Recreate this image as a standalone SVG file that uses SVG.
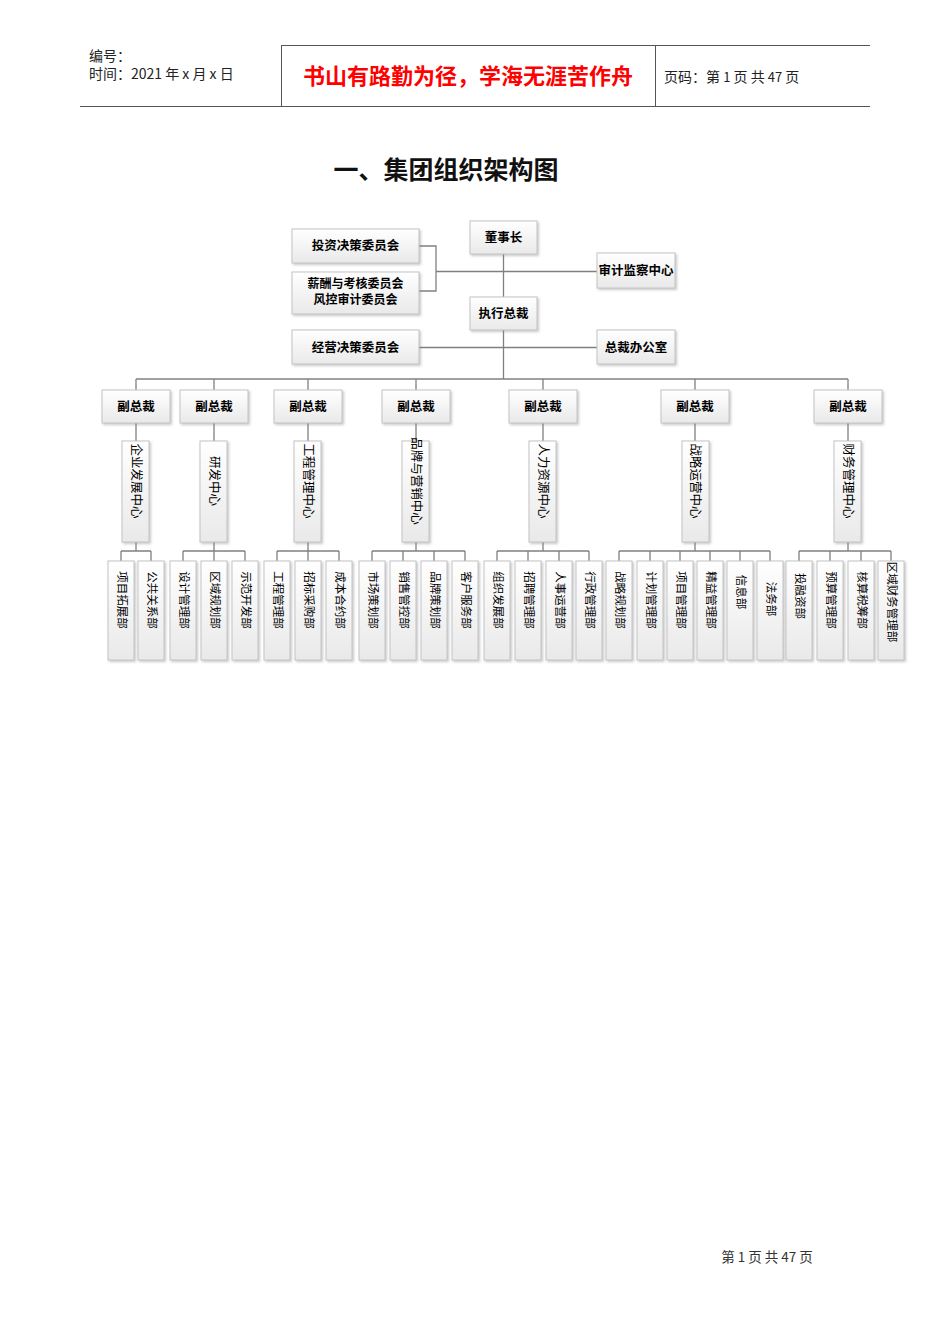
<svg xmlns="http://www.w3.org/2000/svg" width="950" height="1344" viewBox="0 0 950 1344">
<style>
.hl{stroke:#555;stroke-width:1;fill:none}
.box{fill:url(#gr);stroke:#c4c4c4;stroke-width:1;filter:url(#sh)}
.cn{stroke:#808080;stroke-width:1.3;fill:none}
.t{font-family:"Noto Sans CJK SC","Liberation Sans",sans-serif;fill:#000}
.b{font-size:12.5px;font-weight:bold;text-anchor:middle}
.b2{font-size:12px;font-weight:bold;text-anchor:middle}
.v{font-size:12.5px;text-anchor:middle;dominant-baseline:central}
.lf{font-size:11.5px;text-anchor:middle;dominant-baseline:central}
.hd{font-family:"Noto Sans CJK SC","Liberation Sans",sans-serif;font-size:14px;fill:#222}
</style>
<defs>
<linearGradient id="gr" x1="0" y1="0" x2="0" y2="1">
<stop offset="0" stop-color="#ffffff"/>
<stop offset="1" stop-color="#e9e9e9"/>
</linearGradient>
<filter id="sh" x="-20%" y="-20%" width="150%" height="150%">
<feDropShadow dx="1.5" dy="1.5" stdDeviation="0.8" flood-color="#888" flood-opacity="0.45"/>
</filter>
</defs>
<rect width="950" height="1344" fill="#fff"/>

<g id="header">
<line class="hl" x1="281" y1="45.5" x2="870" y2="45.5"/>
<line class="hl" x1="80" y1="106.5" x2="870" y2="106.5"/>
<line class="hl" x1="281.5" y1="45" x2="281.5" y2="106"/>
<line class="hl" x1="655.5" y1="45" x2="655.5" y2="106"/>
<text class="hd" x="89" y="61">编号：</text>
<text class="hd" x="89" y="79">时间：2021 年 x 月 x 日</text>
<text x="468" y="84" text-anchor="middle" font-family="Noto Sans CJK SC,sans-serif" font-size="22" font-weight="bold" fill="#ff0000">书山有路勤为径，学海无涯苦作舟</text>
<text class="hd" x="664" y="82" font-size="15">页码：第 <tspan font-size="13">1</tspan> 页 共 <tspan font-size="13">47</tspan> 页</text>
</g>

<text x="446" y="179" text-anchor="middle" font-family="Noto Sans CJK SC,sans-serif" font-size="25" font-weight="bold" fill="#111">一、集团组织架构图</text>

<g id="connectors">
<line class="cn" x1="503.5" y1="254" x2="503.5" y2="297"/>
<polyline class="cn" points="419,246 436,246 436,291 419,291"/>
<line class="cn" x1="436" y1="271.5" x2="597" y2="271.5"/>
<line class="cn" x1="419" y1="347.5" x2="597" y2="347.5"/>
<line class="cn" x1="503.5" y1="330" x2="503.5" y2="379"/>
<line class="cn" x1="136" y1="379" x2="848" y2="379"/>
<path class="cn" d="M136 379V390M214 379V390M308 379V390M416 379V390M543 379V390M695 379V390M848 379V390"/>
<path class="cn" d="M136 423V441M214 423V441M308 423V441M416 423V441M543 423V441M695 423V441M848 423V441"/>
<path class="cn" d="M136 542V551M214 542V551M308 542V551M416 542V551M543 542V551M695 542V551M848 542V551"/>
<path class="cn" d="M121 551H151M183 551H245M277 551H339M372 551H465M497 551H589M619 551H770M799 551H891"/>
<path class="cn" d="M121 551V561M151 551V561M183 551V561M214 551V561M245 551V561M277 551V561M308 551V561M339 551V561M372 551V561M403 551V561M434 551V561M465 551V561M497 551V561M528 551V561M559 551V561M589 551V561M619 551V561M650 551V561M680 551V561M710 551V561M740 551V561M770 551V561M799 551V561M830 551V561M861 551V561M891 551V561"/>
</g>

<g id="n-chairman"><rect class="box" x="470" y="221" width="67" height="33"/><text class="t b" x="503.5" y="242">董事长</text></g>
<g id="n-invest"><rect class="box" x="292" y="229" width="127" height="34"/><text class="t b" x="355.5" y="250">投资决策委员会</text></g>
<g id="n-salary"><rect class="box" x="292" y="272" width="127" height="42"/><text class="t b2" x="355.5" y="288">薪酬与考核委员会</text><text class="t b2" x="355.5" y="304">风控审计委员会</text></g>
<g id="n-audit"><rect class="box" x="597" y="253" width="78" height="35"/><text class="t b" x="636" y="275">审计监察中心</text></g>
<g id="n-ceo"><rect class="box" x="470" y="297" width="67" height="33"/><text class="t b" x="503.5" y="318">执行总裁</text></g>
<g id="n-ops"><rect class="box" x="292" y="330" width="127" height="34"/><text class="t b" x="355.5" y="352">经营决策委员会</text></g>
<g id="n-office"><rect class="box" x="597" y="330" width="78" height="34"/><text class="t b" x="636" y="352">总裁办公室</text></g>

<g id="vp1"><rect class="box" x="102" y="390" width="68" height="33"/><text class="t b" x="136" y="411">副总裁</text></g>
<g id="vp2"><rect class="box" x="180" y="390" width="68" height="33"/><text class="t b" x="214" y="411">副总裁</text></g>
<g id="vp3"><rect class="box" x="274" y="390" width="68" height="33"/><text class="t b" x="308" y="411">副总裁</text></g>
<g id="vp4"><rect class="box" x="382" y="390" width="68" height="33"/><text class="t b" x="416" y="411">副总裁</text></g>
<g id="vp5"><rect class="box" x="509" y="390" width="68" height="33"/><text class="t b" x="543" y="411">副总裁</text></g>
<g id="vp6"><rect class="box" x="661" y="390" width="68" height="33"/><text class="t b" x="695" y="411">副总裁</text></g>
<g id="vp7"><rect class="box" x="814" y="390" width="68" height="33"/><text class="t b" x="848" y="411">副总裁</text></g>

<g id="c1"><rect class="box" x="122" y="441" width="27" height="101"/><text class="t v" transform="translate(137,481) rotate(90)">企业发展中心</text></g>
<g id="c2"><rect class="box" x="200" y="441" width="27" height="101"/><text class="t v" transform="translate(215,481) rotate(90)">研发中心</text></g>
<g id="c3"><rect class="box" x="294" y="441" width="27" height="101"/><text class="t v" transform="translate(309,481) rotate(90)">工程管理中心</text></g>
<g id="c4"><rect class="box" x="402" y="441" width="27" height="101"/><text class="t v" transform="translate(417,481) rotate(90)">品牌与营销中心</text></g>
<g id="c5"><rect class="box" x="529" y="441" width="27" height="101"/><text class="t v" transform="translate(544,481) rotate(90)">人力资源中心</text></g>
<g id="c6"><rect class="box" x="682" y="441" width="27" height="101"/><text class="t v" transform="translate(696,481) rotate(90)">战略运营中心</text></g>
<g id="c7"><rect class="box" x="834" y="441" width="27" height="101"/><text class="t v" transform="translate(849,481) rotate(90)">财务管理中心</text></g>

<g id="d1"><rect class="box" x="108" y="561" width="26" height="99"/><text class="t lf" transform="translate(123,600) rotate(90)">项目拓展部</text></g>
<g id="d2"><rect class="box" x="138" y="561" width="26" height="99"/><text class="t lf" transform="translate(153,600) rotate(90)">公共关系部</text></g>
<g id="d3"><rect class="box" x="170" y="561" width="26" height="99"/><text class="t lf" transform="translate(185,600) rotate(90)">设计管理部</text></g>
<g id="d4"><rect class="box" x="201" y="561" width="26" height="99"/><text class="t lf" transform="translate(216,600) rotate(90)">区域规划部</text></g>
<g id="d5"><rect class="box" x="232" y="561" width="26" height="99"/><text class="t lf" transform="translate(247,600) rotate(90)">示范开发部</text></g>
<g id="d6"><rect class="box" x="264" y="561" width="26" height="99"/><text class="t lf" transform="translate(279,600) rotate(90)">工程管理部</text></g>
<g id="d7"><rect class="box" x="295" y="561" width="26" height="99"/><text class="t lf" transform="translate(310,600) rotate(90)">招标采购部</text></g>
<g id="d8"><rect class="box" x="326" y="561" width="26" height="99"/><text class="t lf" transform="translate(341,600) rotate(90)">成本合约部</text></g>
<g id="d9"><rect class="box" x="359" y="561" width="26" height="99"/><text class="t lf" transform="translate(374,600) rotate(90)">市场策划部</text></g>
<g id="d10"><rect class="box" x="390" y="561" width="26" height="99"/><text class="t lf" transform="translate(405,600) rotate(90)">销售管控部</text></g>
<g id="d11"><rect class="box" x="421" y="561" width="26" height="99"/><text class="t lf" transform="translate(436,600) rotate(90)">品牌策划部</text></g>
<g id="d12"><rect class="box" x="452" y="561" width="26" height="99"/><text class="t lf" transform="translate(467,600) rotate(90)">客户服务部</text></g>
<g id="d13"><rect class="box" x="484" y="561" width="26" height="99"/><text class="t lf" transform="translate(499,600) rotate(90)">组织发展部</text></g>
<g id="d14"><rect class="box" x="515" y="561" width="26" height="99"/><text class="t lf" transform="translate(530,600) rotate(90)">招聘管理部</text></g>
<g id="d15"><rect class="box" x="546" y="561" width="26" height="99"/><text class="t lf" transform="translate(561,600) rotate(90)">人事运营部</text></g>
<g id="d16"><rect class="box" x="576" y="561" width="26" height="99"/><text class="t lf" transform="translate(591,600) rotate(90)">行政管理部</text></g>
<g id="d17"><rect class="box" x="606" y="561" width="26" height="99"/><text class="t lf" transform="translate(621,600) rotate(90)">战略规划部</text></g>
<g id="d18"><rect class="box" x="637" y="561" width="26" height="99"/><text class="t lf" transform="translate(652,600) rotate(90)">计划管理部</text></g>
<g id="d19"><rect class="box" x="667" y="561" width="26" height="99"/><text class="t lf" transform="translate(682,600) rotate(90)">项目管理部</text></g>
<g id="d20"><rect class="box" x="697" y="561" width="26" height="99"/><text class="t lf" transform="translate(712,600) rotate(90)">精益管理部</text></g>
<g id="d21"><rect class="box" x="727" y="561" width="26" height="99"/><text class="t lf" transform="translate(742,592) rotate(90)">信息部</text></g>
<g id="d22"><rect class="box" x="757" y="561" width="26" height="99"/><text class="t lf" transform="translate(772,599) rotate(90)">法务部</text></g>
<g id="d23"><rect class="box" x="786" y="561" width="26" height="99"/><text class="t lf" transform="translate(801,596) rotate(90)">投融资部</text></g>
<g id="d24"><rect class="box" x="817" y="561" width="26" height="99"/><text class="t lf" transform="translate(832,600) rotate(90)">预算管理部</text></g>
<g id="d25"><rect class="box" x="848" y="561" width="26" height="99"/><text class="t lf" transform="translate(863,600) rotate(90)">核算税筹部</text></g>
<g id="d26"><rect class="box" x="878" y="561" width="26" height="99"/><text class="t lf" transform="translate(893,602) rotate(90)">区域财务管理部</text></g>

<text x="767" y="1262" text-anchor="middle" font-family="Noto Sans CJK SC,sans-serif" font-size="13.5" fill="#333">第 1 页 共 47 页</text>
</svg>
